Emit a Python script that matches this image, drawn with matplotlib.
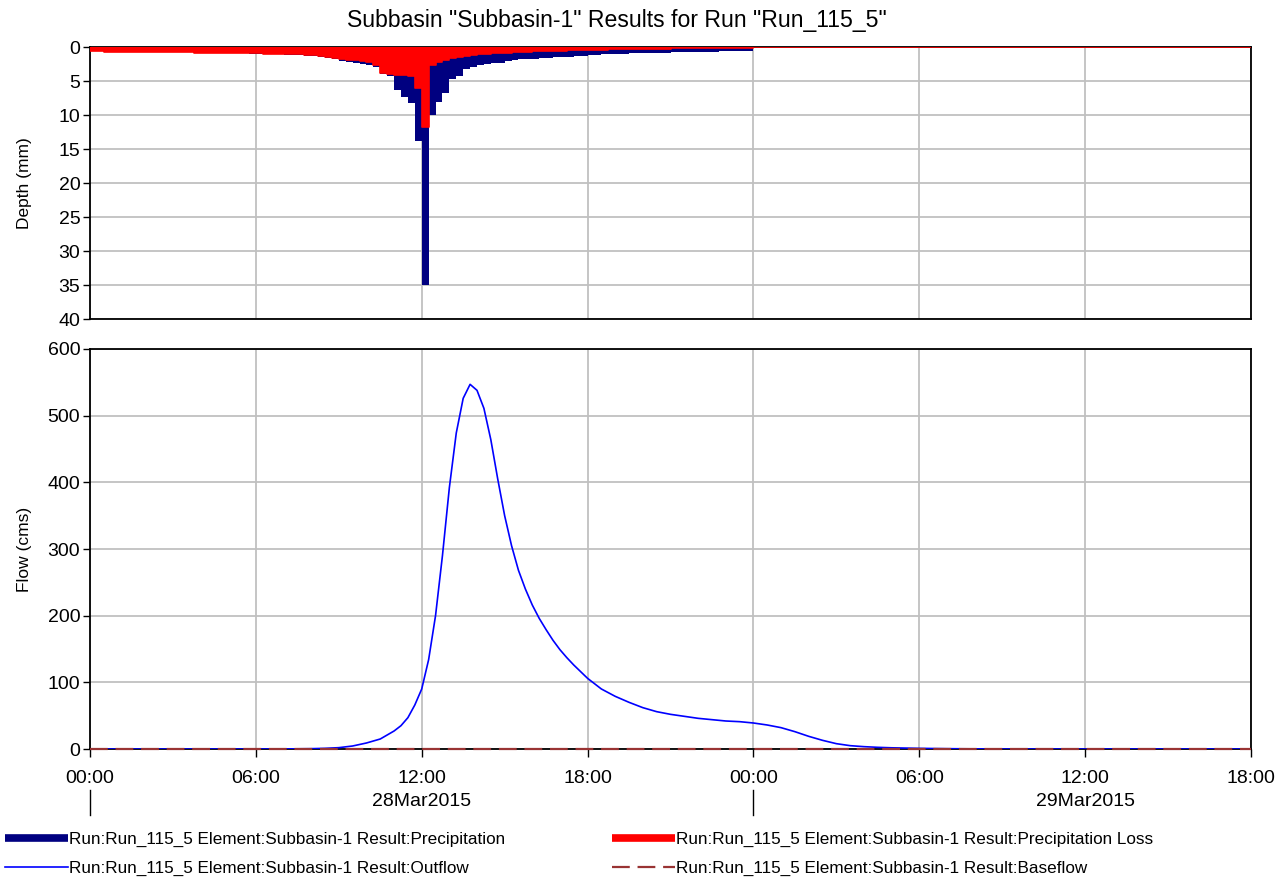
import numpy as np
import pandas as pd
import matplotlib
matplotlib.use("Agg")
import matplotlib.pyplot as plt
import matplotlib.dates as mdates
from matplotlib.lines import Line2D

plt.rcParams['font.family'] = ['Liberation Sans', 'DejaVu Sans']

run_name = "Run_115_5"
element = "Subbasin-1"
start = pd.Timestamp("2015-03-28 00:00")
end = pd.Timestamp("2015-03-29 18:00")

# incremental depths (mm) per 15 min, 28Mar2015 00:00 - 24:00
precip_mm = [
    0.65, 0.66, 0.67, 0.68, 0.69, 0.70, 0.71, 0.72, 0.73, 0.74, 0.75, 0.76,
    0.78, 0.79, 0.80, 0.82, 0.83, 0.85, 0.86, 0.88, 0.90, 0.92, 0.94, 0.96,
    0.99, 1.02, 1.05, 1.08, 1.12, 1.16, 1.20, 1.25, 1.30, 1.40, 1.55, 1.75,
    2.00, 2.15, 2.30, 2.45, 2.60, 2.90,
    3.90, 4.30, 6.30, 7.30, 8.30, 13.8,
    35.0,
    10.0, 8.10, 6.70, 4.75, 4.30, 3.20, 2.90,
    2.60, 2.50, 2.40, 2.30, 2.00, 1.90, 1.80, 1.75,
    1.70, 1.60, 1.55, 1.50, 1.45, 1.40, 1.35, 1.30,
    1.20, 1.15, 1.10, 1.05, 1.00, 0.98, 0.95, 0.92, 0.90, 0.88, 0.85, 0.83,
    0.80, 0.78, 0.76, 0.74, 0.72, 0.70, 0.68, 0.66, 0.64, 0.62, 0.60, 0.58,
]
loss_mm = [
    0.65, 0.66, 0.67, 0.68, 0.69, 0.70, 0.71, 0.72, 0.73, 0.74, 0.75, 0.76,
    0.78, 0.79, 0.80, 0.81, 0.82, 0.84, 0.85, 0.86, 0.88, 0.89, 0.91, 0.93,
    0.95, 0.97, 0.99, 1.01, 1.04, 1.07, 1.10, 1.13, 1.17, 1.25, 1.40, 1.55,
    1.75, 1.85, 1.95, 2.05, 2.20, 2.70,
    3.80, 4.00, 4.10, 4.10, 4.20, 6.10,
    11.7,
    2.60, 2.20, 1.90, 1.60, 1.45, 1.30, 1.20,
    1.10, 1.00, 0.95, 0.90, 0.85, 0.80, 0.75, 0.70,
    0.65, 0.60, 0.58, 0.55, 0.52, 0.50, 0.48, 0.45,
    0.42, 0.40, 0.38, 0.36, 0.34, 0.32, 0.30, 0.28, 0.27, 0.26, 0.25, 0.24,
    0.22, 0.21, 0.20, 0.19, 0.18, 0.17, 0.16, 0.15, 0.14, 0.13, 0.12, 0.12,
]

# outflow hydrograph (hours from start, cms)
outflow_hours = [
    0, 1, 2, 3, 4, 5, 6, 7, 8, 8.5, 9, 9.5, 10, 10.5, 10.75, 11, 11.25, 11.5,
    11.75, 12, 12.25, 12.5, 12.75, 13, 13.25, 13.5, 13.75, 14, 14.25, 14.5,
    14.75, 15, 15.25, 15.5, 15.75, 16, 16.25, 16.5, 16.75, 17, 17.25, 17.5,
    17.75, 18, 18.5, 19, 19.5, 20, 20.5, 21, 21.5, 22, 22.5, 23, 23.5, 24,
    24.5, 25, 25.5, 26, 26.5, 27, 27.5, 28, 28.5, 29, 30, 31, 32, 33, 36,
    39, 42,
]
outflow_cms = [
    0, 0, 0, 0, 0, 0, 0, 0.1, 0.5, 1, 2, 4.5, 9, 15, 21, 27, 35, 47,
    66, 90, 134, 200, 290, 392, 474, 526, 547, 538, 511, 464,
    405, 350, 305, 268, 240, 216, 196, 179, 163, 149, 137, 126,
    116, 106, 90, 79, 70, 62, 56, 52, 49, 46, 44, 42, 41, 39,
    36, 32, 26, 19, 13, 8, 5, 3.5, 2.5, 1.8, 1.0, 0.5, 0.2, 0, 0,
    0, 0,
]
baseflow_cms = [0.0] * len(outflow_hours)

labels = [
    f"Run:{run_name} Element:{element} Result:Precipitation",
    f"Run:{run_name} Element:{element} Result:Outflow",
    f"Run:{run_name} Element:{element} Result:Precipitation Loss",
    f"Run:{run_name} Element:{element} Result:Baseflow",
]

NAVY = "#000080"
RED = "#ff0000"
BLUE = "#0000ff"
BROWN = "#993333"
GRID = "#c0c0c0"

# pad the storm with zeros to the end of the simulation window
steps = pd.date_range(start, end, freq="15min")
n_pad = len(steps) - len(precip_mm)
p_full = np.array(precip_mm + [0.0] * n_pad)
l_full = np.array(loss_mm + [0.0] * n_pad)
t_flow = start + pd.to_timedelta(outflow_hours, unit="h")

fig = plt.figure(figsize=(12.85, 8.83), dpi=100)
W, H = 1285, 883
ax1 = fig.add_axes([90 / W, 1 - 319 / H, 1161 / W, 272 / H])
ax2 = fig.add_axes([90 / W, 1 - 749 / H, 1161 / W, 400 / H], sharex=ax1)

# hyetograph
ax1.fill_between(steps, 0, p_full, step="post", color=NAVY, lw=0, zorder=2)
ax1.fill_between(steps, 0, l_full, step="post", color=RED, lw=0, zorder=3)
ax1.step(steps, l_full, where="post", color=RED, lw=1.2, zorder=3)
ax1.set_ylim(40, 0)
ax1.set_yticks(np.arange(0, 41, 5))
ax1.set_ylabel("Depth (mm)", fontsize=12.5)

# hydrograph
ax2.plot(t_flow, outflow_cms, color=BLUE, lw=1.2, zorder=3)
ax2.plot(t_flow, baseflow_cms, color=BROWN, lw=1.6,
         linestyle=(0, (8, 3.5)), zorder=4, clip_on=False)
ax2.set_ylim(0, 600)
ax2.set_yticks(np.arange(0, 601, 100))
ax2.set_ylabel("Flow (cms)", fontsize=12.5)

ax2.set_xlim(start, end)
ax2.xaxis.set_major_locator(mdates.HourLocator(byhour=[0, 6, 12, 18]))
ax2.xaxis.set_major_formatter(mdates.DateFormatter("%H:%M"))

for ax in (ax1, ax2):
    ax.grid(True, color=GRID, lw=1.3, zorder=0)
    ax.set_axisbelow(True)
    for s in ax.spines.values():
        s.set_linewidth(1.3)
        s.set_color("black")
    ax.tick_params(axis="y", labelsize=14, length=5, width=1, pad=2)
    ax.yaxis.set_label_coords(-58 / 1161, 0.5)
ax1.tick_params(axis="x", length=0, labelbottom=False)
ax2.tick_params(axis="x", labelsize=14, length=6, width=1, pad=9)

# day labels under the time axis
xf = ax2.get_xaxis_transform()
for day in pd.date_range(start.normalize(), end.normalize(), freq="D"):
    noon = day + pd.Timedelta(hours=12)
    ax2.text(mdates.date2num(noon), -0.1325, day.strftime("%d%b%Y"),
             transform=xf, ha="center", va="center", fontsize=14)
    ax2.plot([day, day], [-0.1025, -0.165], transform=xf, color="black",
             lw=1, clip_on=False)

fig.text(617 / W, 1 - 20 / H,
         f'Subbasin "{element}" Results for Run "{run_name}"',
         ha="center", va="center", fontsize=16.6)

handles = [
    Line2D([], [], color=NAVY, lw=5.5, solid_capstyle="butt"),
    Line2D([], [], color=BLUE, lw=1.2),
    Line2D([], [], color=RED, lw=5.5, solid_capstyle="butt"),
    Line2D([], [], color=BROWN, lw=1.6, linestyle=(0, (8, 3.5))),
]
fig.legend(handles, labels, ncol=2, loc="upper left",
           bbox_to_anchor=(-7 / W, 1 - 820 / H), frameon=False, fontsize=12.3,
           handlelength=3.7, handletextpad=0.05, columnspacing=6.25,
           labelspacing=0.8, borderpad=0.2)

fig.savefig("out.png", dpi=100)
